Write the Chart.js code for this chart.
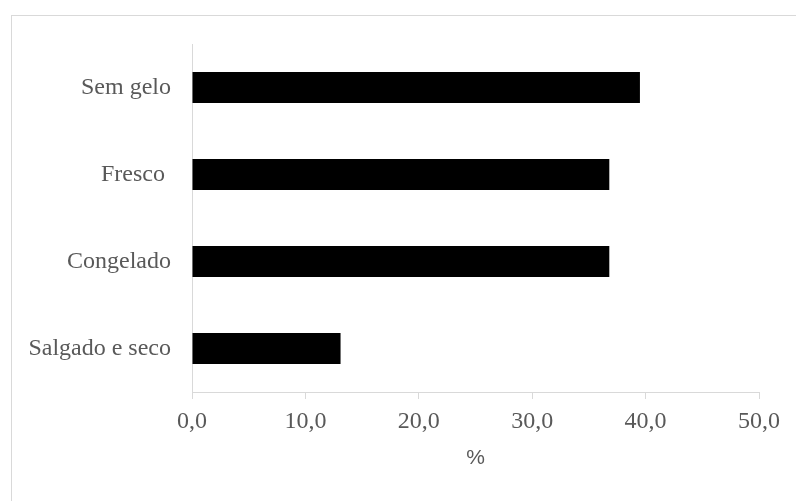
<!DOCTYPE html>
<html>
<head>
  <meta charset="utf-8">
  <title>Produtos</title>
  <style>
    html, body { margin: 0; padding: 0; overflow: hidden; background: #fff; }
    #frame { position: absolute; left: 11px; top: 15px; width: 900px; height: 600px;
             border-top: 1px solid #d9d9d9; border-left: 1px solid #d9d9d9; }
    #barChart { position: absolute; left: 0; top: 0; }
  </style>
</head>
<body>
  <script src="https://cdn.jsdelivr.net/npm/chart.js"></script>
  <div id="frame"></div>
  <canvas id="barChart" width="796" height="501"></canvas>
<script>
    // data
    const categories = ['Sem gelo', 'Fresco ', 'Congelado', 'Salgado e seco'];
    const percentValues = [39.5, 36.8, 36.8, 13.1];
    const xTicks = [0, 10, 20, 30, 40, 50];

    const axisGray = '#d9d9d9';
    const textGray = '#595959';
    const serif = "'Liberation Serif', 'Times New Roman', serif";

    const ctx = document.getElementById('barChart').getContext('2d');
    new Chart(ctx, {
      type: 'bar',
      data: {
        labels: categories,
        datasets: [{
          data: percentValues,
          backgroundColor: '#000000',
          borderWidth: 0,
          barPercentage: 0.357,
          categoryPercentage: 1.0
        }]
      },
      options: {
        indexAxis: 'y',
        responsive: false,
        animation: false,
        layout: { padding: { top: 44, right: 37, left: 0, bottom: 0 } },
        plugins: {
          legend: { display: false },
          tooltip: { enabled: false }
        },
        scales: {
          x: {
            min: xTicks[0],
            max: xTicks[xTicks.length - 1],
            afterBuildTicks: axis => { axis.ticks = xTicks.map(v => ({ value: v })); },
            afterFit: axis => { axis.height = 109; },
            border: { display: true, color: axisGray, width: 1 },
            grid: { drawOnChartArea: false, drawTicks: true, tickLength: 7, color: axisGray },
            ticks: {
              color: textGray,
              padding: 8,
              maxRotation: 0,
              font: { family: serif, size: 24 },
              callback: v => v.toFixed(1).replace('.', ',')
            },
            title: {
              display: true,
              text: '%',
              color: textGray,
              font: { family: "'Liberation Sans', Arial, sans-serif", size: 21 },
              padding: { top: 0, bottom: 30 }
            }
          },
          y: {
            afterFit: axis => { axis.width = 192; },
            border: { display: true, color: axisGray, width: 1 },
            grid: { display: false, drawTicks: false },
            ticks: {
              color: textGray,
              padding: 21,
              font: { family: serif, size: 24 }
            }
          }
        }
      }
    });
  </script>
</body>
</html>
